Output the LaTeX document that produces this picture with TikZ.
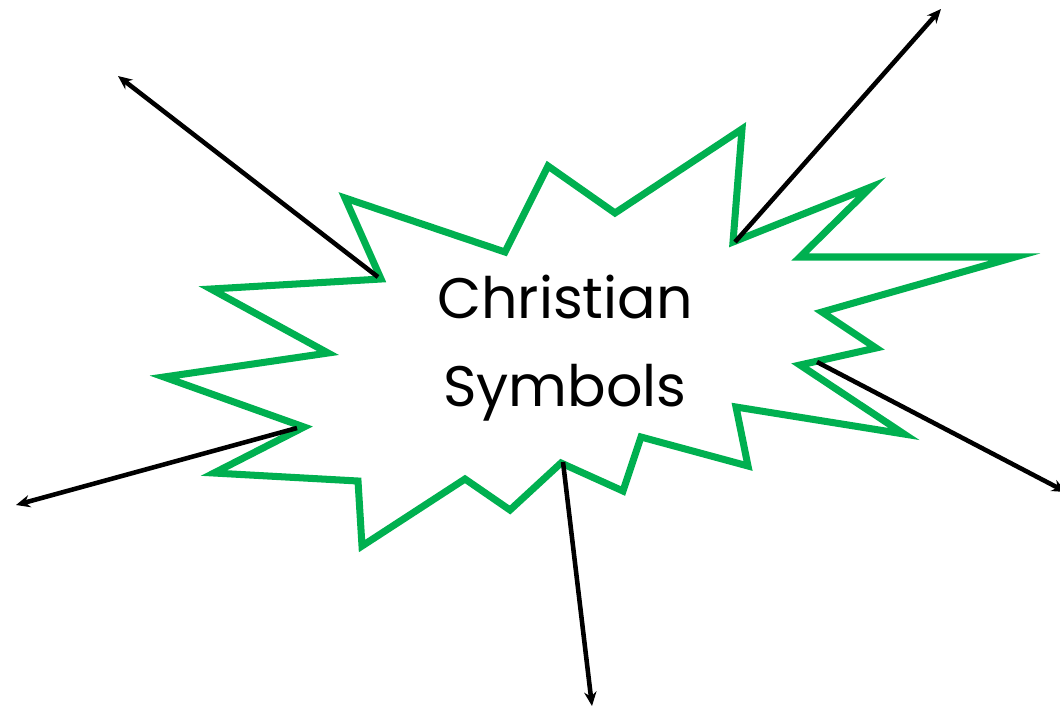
\documentclass[tikz,border=0pt]{standalone}
\usepackage{fontspec}
\setmainfont{Poppins}
\usepackage{xcolor}
\usetikzlibrary{arrows.meta}
\definecolor{burstgreen}{RGB}{0, 176, 80}

\begin{document}
\begin{tikzpicture}[
    x=0.02cm, y=-0.02cm,
    burst/.style={draw=burstgreen, line width=4pt, line join=miter, miter limit=20},
    arrow/.style={-{Stealth[length=8pt, width=7pt]}, line width=2.6pt, black},
    title/.style={font=\fontsize{32.5}{50}\selectfont, align=center}
]
    \useasboundingbox (0,0) rectangle (1060,707);

    % the burst
    \draw[burst] (345,198) -- (505,252) -- (548,166) -- (615,213) -- (742,129)
        -- (733,242) -- (871,187) -- (800,257) -- (1015,257) -- (822,312)
        -- (876,348) -- (800,365) -- (904,434) -- (736,407) -- (748,466)
        -- (641,437) -- (623,491) -- (561,463) -- (510,510) -- (465,479)
        -- (362,546) -- (358,481) -- (214,473) -- (304,427) -- (164,377)
        -- (328,353) -- (211,289) -- (381,279) -- cycle;

    \node[title] (topic) at (565,348) {Christian\\Symbols};

    % arrow ends
    \coordinate (nwfrom) at (378,277);
    \coordinate (nwto) at (118,76);
    \coordinate (nefrom) at (735,242);
    \coordinate (neto) at (941,9);
    \coordinate (efrom) at (817,362);
    \coordinate (eto) at (1066,492);
    \coordinate (wfrom) at (297,428);
    \coordinate (wto) at (16,505);
    \coordinate (sfrom) at (563,462);
    \coordinate (sto) at (592,706);

    \draw[arrow] (nwfrom) -- (nwto);
    \draw[arrow] (nefrom) -- (neto);
    \draw[arrow] (efrom) -- (eto);
    \draw[arrow] (wfrom) -- (wto);
    \draw[arrow] (sfrom) -- (sto);
\end{tikzpicture}
\end{document}
